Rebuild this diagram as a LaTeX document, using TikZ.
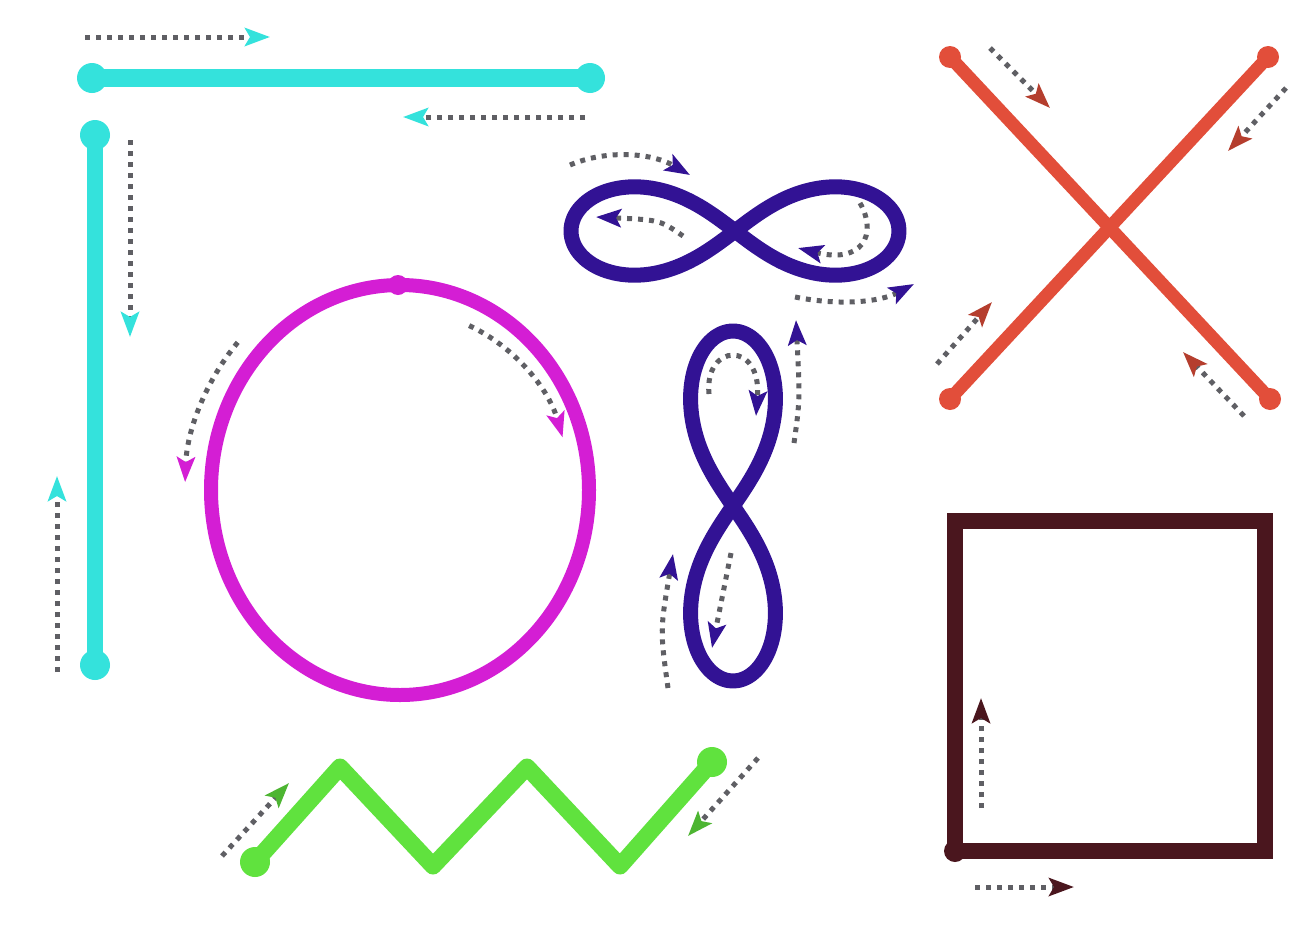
\documentclass[tikz,border=0pt]{standalone}
\usepackage{tikz}
\usetikzlibrary{arrows.meta,calc}
\definecolor{cyanline}{RGB}{52,226,220}
\definecolor{magline}{RGB}{212,30,212}
\definecolor{indline}{RGB}{50,18,148}
\definecolor{redline}{RGB}{226,78,58}
\definecolor{marline}{RGB}{74,22,30}
\definecolor{grnline}{RGB}{96,226,62}
\definecolor{dotgray}{RGB}{95,95,100}
\tikzset{
  shapeline/.style = {line width=#1, line cap=round, line join=round},
  flow/.style      = {draw=dotgray, line width=5pt, dash pattern=on 5pt off 6pt,
                      -{Stealth[length=25pt,width=18pt,inset=5pt,color=#1]}},
}

\begin{document}
\begin{tikzpicture}[x=1pt,y=-1pt]
\useasboundingbox (0,0) rectangle (1297,937);
\fill[white] (0,0) rectangle (1297,937);
% ---------- cyan bars ----------
\coordinate (H1) at (92,78);
\coordinate (H2) at (590,78);
\coordinate (V1) at (95,135);
\coordinate (V2) at (95,665);
\draw[cyanline,shapeline=18pt] (H1) -- (H2);
\draw[cyanline,shapeline=16pt] (V1) -- (V2);
\foreach \p in {H1,H2,V1,V2} \fill[cyanline] (\p) circle (15);
\draw[flow=cyanline] (85,37) -- (270,37);
\draw[flow=cyanline] (585,117) -- (403,117);
\draw[flow=cyanline] (130,140) -- (130,337);
\draw[flow=cyanline] (57,672) -- (57,476);
% ---------- magenta circle ----------
\coordinate (O) at (400,490);
\draw[magline,shapeline=14pt] (O) ellipse[x radius=189, y radius=205];
\fill[magline] (398,285) circle (10);
\draw[flow=magline] (O) ++(-66:170 and 180) arc[start angle=-66, end angle=-17, x radius=170, y radius=180];
\draw[flow=magline] (O) ++(-139:215 and 225) arc[start angle=-139, end angle=-178, x radius=215, y radius=225];
% ---------- horizontal figure eight ----------
\begin{scope}[shift={(735,231)}]
\draw[indline,shapeline=15pt] plot[domain=0:360, samples=121, smooth, variable=\t]
  ({164*cos(\t)/(1+sin(\t)^2)}, {125*sin(\t)*cos(\t)/(1+sin(\t)^2)});
\end{scope}
\draw[flow=indline] (570,165) .. controls (605,150) and (650,152) .. (690,175);
\draw[flow=indline] (683,236) .. controls (660,220) .. (596,217);
\draw[flow=indline] (860,203) .. controls (878,235) and (862,264) .. (798,248);
\draw[flow=indline] (795,297) .. controls (840,306) and (880,302) .. (914,284);
% ---------- vertical figure eight ----------
\begin{scope}[shift={(733,506)}]
\draw[indline,shapeline=15pt] plot[domain=0:360, samples=121, smooth, variable=\t]
  ({120*sin(\t)*cos(\t)/(1+sin(\t)^2)}, {175*cos(\t)/(1+sin(\t)^2)});
\end{scope}
\draw[flow=indline] (794,443) .. controls (800,400) .. (796,320);
\draw[flow=indline] (709,394) .. controls (704,343) and (762,340) .. (756,416);
\draw[flow=indline] (731,553) -- (712,648);
\draw[flow=indline] (668,688) .. controls (660,630) .. (673,554);
% ---------- red cross ----------
\coordinate (X1) at (950,57);
\coordinate (X2) at (1270,399);
\coordinate (X3) at (1268,57);
\coordinate (X4) at (950,399);
\draw[redline,shapeline=13pt] (X1) -- (X2);
\draw[redline,shapeline=13pt] (X3) -- (X4);
\foreach \p in {X1,X2,X3,X4} \fill[redline] (\p) circle (11);
\draw[flow=redline!80!black] (990,48) -- (1050,108);
\draw[flow=redline!80!black] (1286,88) -- (1228,151);
\draw[flow=redline!80!black] (937,364) -- (992,302);
\draw[flow=redline!80!black] (1244,416) -- (1183,352);
% ---------- dark square ----------
\coordinate (S1) at (955,521);
\coordinate (S2) at (1265,851);
\draw[marline,line width=16pt] (S1) rectangle (S2);
\fill[marline] (S1 |- S2) circle (11);
\draw[flow=marline] (981,808) -- (981,698);
\draw[flow=marline] (975,887) -- (1074,887);
% ---------- green zigzag ----------
\coordinate (Z0) at (255,862);
\coordinate (Z5) at (712,762);
\draw[grnline,shapeline=17pt] (Z0) -- (340,767) -- (433,866) -- (527,767) -- (620,866) -- (Z5);
\foreach \p in {Z0,Z5} \fill[grnline] (\p) circle (15);
\draw[flow=grnline!80!black] (222,856) -- (289,783);
\draw[flow=grnline!80!black] (758,758) -- (688,836);
\end{tikzpicture}
\end{document}
